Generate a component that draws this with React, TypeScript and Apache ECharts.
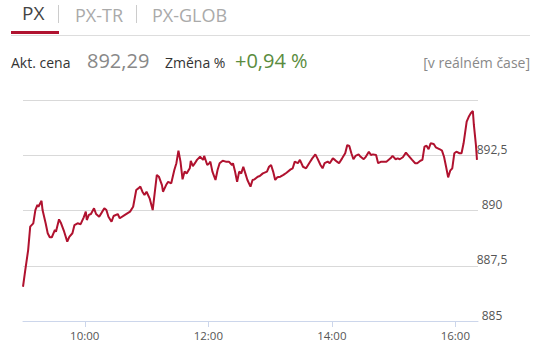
import React, { useEffect, useRef } from "react";
import * as echarts from "echarts";

// minutes after midnight
const times: number[] = [
  540, 542, 545, 547, 550, 552, 554, 555, 558, 559, 562, 564, 566, 568, 571, 572, 575, 577, 580, 583,
  585, 588, 590, 593, 596, 599, 601, 602, 604, 606, 609, 611, 614, 616, 619, 621, 623, 626, 628, 632,
  634, 639, 644, 647, 650, 652, 654, 656, 658, 660, 663, 666, 670, 672, 675, 676, 679, 681, 684, 687,
  689, 691, 693, 695, 697, 699, 702, 703, 705, 707, 709, 712, 715, 716, 719, 721,
  722, 724, 727, 729, 731, 734, 737, 740, 743, 744, 746, 748, 750, 752, 754, 756, 758, 761, 763, 765,
  768, 770, 773, 777, 779, 781, 783, 785, 787, 790, 793, 796, 800,
  802, 804, 807, 809, 812, 815, 818, 821, 824, 826, 829, 831, 833, 836, 838, 841, 843, 845, 847, 850,
  853, 855, 857, 859, 861, 863, 866, 868, 871, 873, 876, 878, 880, 883, 885, 888,
  890, 893, 897, 899, 902, 904, 906, 909, 912, 914, 918, 921, 923, 926, 928, 930, 932, 934, 936, 939,
  941, 945, 947, 949, 951, 953, 955, 957, 959, 961, 964, 966, 968, 971, 973, 975, 977, 978, 980, 981,
];

const values: number[] = [
  886.55, 887.23, 888.21, 889.27, 889.42, 890.02, 890.25, 890.17, 890.44, 890.02, 889.42, 888.97, 888.79, 888.79, 889.12, 889.04, 889.6, 889.42, 889.04, 888.59,
  888.81, 888.97, 889.34, 889.42, 889.38, 889.69, 889.95, 889.57, 889.8, 889.84, 890.1, 889.84, 889.72, 889.87, 890.1, 890.02, 889.72, 889.49, 889.75, 889.84,
  889.65, 889.8, 889.95, 890.17, 890.93, 891.0, 891.08, 890.85, 890.7, 890.85, 890.55, 890.02, 891.61, 891.53, 891.15, 890.85, 891.15, 891.3, 891.23, 891.83,
  892.14, 892.71, 892.21, 891.41, 891.76, 891.68, 891.91, 892.25, 892.01, 892.14, 892.29, 892.43, 892.29, 892.47, 892.06, 892.14,
  892.21, 891.76, 891.38, 891.83, 892.14, 892.25, 892.21, 892.21, 892.06, 892.14, 891.76, 891.3, 891.76, 891.68, 891.98, 891.68, 891.38, 891.08, 891.38, 891.41,
  891.53, 891.56, 891.68, 891.76, 891.98, 892.06, 891.76, 891.38, 891.5, 891.53, 891.61, 891.71, 891.86,
  891.91, 892.21, 892.14, 892.29, 891.98, 891.91, 892.14, 892.36, 892.54, 892.36, 892.06, 891.91, 892.14, 892.21, 892.14, 892.36, 892.29, 892.21, 892.14, 892.36,
  892.59, 892.96, 892.92, 892.59, 892.32, 892.47, 892.54, 892.43, 892.32, 892.43, 892.66, 892.51, 892.54, 892.51, 892.14, 892.21,
  892.21, 892.21, 892.36, 892.47, 892.32, 892.36, 892.32, 892.41, 892.62, 892.51, 892.29, 892.14, 892.14, 892.25, 892.29, 892.89, 892.93, 892.77, 893.04, 893.01,
  892.86, 892.77, 892.71, 892.43, 891.98, 891.5, 891.8, 891.91, 892.59, 892.66, 892.59, 892.59, 893.04, 894.02, 894.24, 894.4, 894.5, 893.87, 892.96, 892.29,
];

const xTickValues: number[] = [600, 720, 840, 960];
const yTickValues: number[] = [885, 887.5, 890, 892.5];

const tabs: string[] = ["PX", "PX-TR", "PX-GLOB"];
const priceLabel = "Akt. cena";
const priceValue = "892,29";
const changeLabel = "Změna %";
const changeValue = "+0,94 %";
const realtimeLabel = "[v reálném čase]";

const FONT = '"Open Sans", "Noto Sans", sans-serif';

const fmtTime = (m: number) => {
  const h = Math.floor(m / 60);
  const mm = Math.round(m - h * 60);
  return `${h}:${mm < 10 ? "0" + mm : mm}`;
};
const fmtNum = (v: number) => String(v).replace(".", ",");

export default function App() {
  const ref = useRef<HTMLDivElement>(null);
  useEffect(() => {
    if (!ref.current) return;
    const chart = echarts.init(ref.current, undefined, { renderer: "svg" });
    const data = times.map((t, i) => [t, values[i]]);
    chart.setOption({
      animation: false,
      backgroundColor: "#ffffff",
      grid: { left: 23, top: 100, width: 455, height: 221, containLabel: false },
      xAxis: {
        type: "value",
        min: 540,
        max: 982,
        axisLine: { show: true, lineStyle: { color: "#ccd6eb", width: 1 } },
        axisTick: { show: true, customValues: xTickValues, length: 6, lineStyle: { color: "#ccd6eb" } },
        axisLabel: {
          customValues: xTickValues,
          formatter: (v: number) => fmtTime(v),
          color: "#555",
          fontSize: 11.5,
          fontFamily: FONT,
          margin: 8,
        },
        splitLine: { show: false },
      },
      yAxis: {
        type: "value",
        position: "right",
        min: 885,
        max: 895,
        interval: 2.5,
        axisLine: { show: false },
        axisTick: { show: false },
        splitLine: { show: true, lineStyle: { color: "#d9d9d9", width: 1 } },
        axisLabel: {
          customValues: yTickValues,
          formatter: (v: number) => fmtNum(v),
          color: "#555",
          fontSize: 12,
          fontFamily: FONT,
          align: "center",
          verticalAlign: "bottom",
          margin: 14,
        },
      },
      series: [
        {
          type: "line",
          data,
          showSymbol: false,
          symbol: "none",
          lineStyle: { color: "#b0122f", width: 2 },
          itemStyle: { color: "#b0122f" },
          z: 5,
        },
      ],
      graphic: [
        { type: "line", shape: { x1: 11, y1: 35.5, x2: 530, y2: 35.5 }, style: { stroke: "#dddddd", lineWidth: 1 } },
        { type: "rect", shape: { x: 11, y: 31, width: 48, height: 3 }, style: { fill: "#b0122f" } },
        { type: "text", x: 22, y: 13, style: { text: tabs[0], font: `19px ${FONT}`, fill: "#444", verticalAlign: "middle" } },
        { type: "line", shape: { x1: 58.5, y1: 5, x2: 58.5, y2: 23 }, style: { stroke: "#cccccc", lineWidth: 1 } },
        { type: "text", x: 75, y: 15, style: { text: tabs[1], font: `18px ${FONT}`, fill: "#aaa", verticalAlign: "middle" } },
        { type: "line", shape: { x1: 136.5, y1: 5, x2: 136.5, y2: 23 }, style: { stroke: "#cccccc", lineWidth: 1 } },
        { type: "text", x: 152, y: 15, style: { text: tabs[2], font: `18px ${FONT}`, fill: "#aaa", verticalAlign: "middle" } },
        { type: "text", x: 11, y: 62, style: { text: priceLabel, font: `14px ${FONT}`, fill: "#333", verticalAlign: "middle" } },
        { type: "text", x: 87, y: 60, style: { text: priceValue, font: `20px ${FONT}`, fill: "#888", verticalAlign: "middle" } },
        { type: "text", x: 165, y: 62, style: { text: changeLabel, font: `14px ${FONT}`, fill: "#333", verticalAlign: "middle" } },
        { type: "text", x: 235, y: 60, style: { text: changeValue, font: `20px ${FONT}`, fill: "#5a8c3e", verticalAlign: "middle" } },
        { type: "text", x: 530, y: 62, style: { text: realtimeLabel, font: `14px ${FONT}`, fill: "#888", align: "right", verticalAlign: "middle" } },
      ],
    });
    return () => chart.dispose();
  }, []);
  return (
    <div style={{ position: "fixed", left: 0, top: 0, width: 537, height: 354, background: "#fff" }}>
      <div ref={ref} style={{ width: 537, height: 354 }} />
    </div>
  );
}
